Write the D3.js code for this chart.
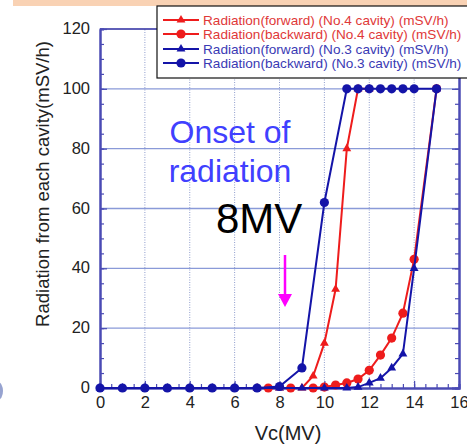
<!DOCTYPE html>
<html>
<head>
<meta charset="utf-8">
<script src="https://cdn.jsdelivr.net/npm/d3@7"></script>
<style>
  body { margin: 0; background: #fff; }
  svg { display: block; font-family: "Liberation Sans", Arial, sans-serif; }
</style>
</head>
<body>
<div id="chart"></div>
<script>
// data
const seriesNames = [
  "Radiation(forward) (No.4 cavity) (mSV/h)",
  "Radiation(backward) (No.4 cavity) (mSV/h)",
  "Radiation(forward) (No.3 cavity) (mSV/h)",
  "Radiation(backward) (No.3 cavity) (mSV/h)"
];
const vcFwd4  = [7, 8, 9, 9.5, 10, 10.5, 11, 11.5, 12];
const radFwd4 = [0, 0, 0, 4, 15, 33, 80, 100, 100];
const vcBack4  = [7.5, 8.5, 9.5, 10, 10.5, 11, 11.5, 12, 12.5, 13, 13.5, 14, 15];
const radBack4 = [0, 0, 0, 0.3, 1, 1.7, 3, 5.9, 11, 16.7, 25, 43, 100];
const vcFwd3  = [0, 1, 2, 3, 4, 5, 6, 7, 8, 9, 10, 11, 11.5, 12, 12.5, 13, 13.5, 14, 15];
const radFwd3 = [0, 0, 0, 0, 0, 0, 0, 0, 0, 0, 0, 0, 0.3, 1.7, 3.3, 6.7, 11.4, 40, 100];
const vcBack3  = [0, 1, 2, 3, 4, 5, 6, 7, 8, 9, 10, 11, 11.5, 12, 12.5, 13, 13.5, 14, 15];
const radBack3 = [0, 0, 0, 0, 0, 0, 0, 0, 0.5, 6.7, 62, 100, 100, 100, 100, 100, 100, 100, 100];
const xTicks = [0, 2, 4, 6, 8, 10, 12, 14, 16];
const yTicks = [0, 20, 40, 60, 80, 100, 120];

const W = 467, H = 446;
const svg = d3.select("#chart").append("svg")
    .attr("width", W)
    .attr("height", H);

const x = d3.scaleLinear().domain([0, 16]).range([100, 459]);
const y = d3.scaleLinear().domain([0, 120]).range([388, 29]);

const axisCol = "#4a4ab4", gridCol = "#8a9ad8";

// slide band at top + stray shape at left edge
svg.append("rect").attr("x", 13).attr("y", 0).attr("width", W - 13).attr("height", 6)
    .attr("fill", "#f9d2b4");
svg.append("ellipse").attr("cx", -2).attr("cy", 391).attr("rx", 5).attr("ry", 9)
    .attr("fill", "#7d8cc4").attr("opacity", 0.8);

// grid
svg.append("g").selectAll("line").data(yTicks.slice(1, -1)).join("line")
    .attr("x1", x(0)).attr("x2", x(16))
    .attr("y1", d => y(d)).attr("y2", d => y(d))
    .attr("stroke", gridCol).attr("stroke-width", 1.3);
svg.append("g").selectAll("line").data(xTicks.slice(1, -1)).join("line")
    .attr("x1", d => x(d)).attr("x2", d => x(d))
    .attr("y1", y(0)).attr("y2", y(120))
    .attr("stroke", "#8e9ccc").attr("stroke-width", 1)
    .attr("stroke-dasharray", "1,1.5");

// top frame line
svg.append("line").attr("x1", x(0)).attr("x2", x(16))
    .attr("y1", y(120)).attr("y2", y(120))
    .attr("stroke", "#2a2aa0").attr("stroke-width", 1.5);

function styleAxis(g) {
  g.select(".domain").attr("stroke", axisCol).attr("stroke-width", 2);
  g.selectAll(".tick line").attr("stroke", axisCol).attr("stroke-width", 1.2);
  g.selectAll(".tick text").attr("fill", "#222").attr("font-size", 16.5)
    .attr("font-family", "Liberation Sans, Arial, sans-serif");
}

// left axis
const minorY = d3.range(0, 121, 5);
svg.append("g").attr("transform", `translate(${x(0)},0)`)
    .call(d3.axisLeft(y).tickValues(minorY).tickSize(-4).tickFormat(""))
    .call(styleAxis);
svg.append("g").attr("transform", `translate(${x(0)},0)`)
    .call(d3.axisLeft(y).tickValues(yTicks).tickSizeInner(-7).tickSizeOuter(0).tickPadding(10))
    .call(styleAxis)
    .call(g => g.selectAll(".tick text").attr("dy", "0.28em"));

// right axis
svg.append("g").attr("transform", `translate(${x(16)},0)`)
    .call(d3.axisRight(y).tickValues(minorY).tickSize(-4).tickFormat(""))
    .call(styleAxis);
svg.append("g").attr("transform", `translate(${x(16)},0)`)
    .call(d3.axisRight(y).tickValues(yTicks).tickSize(-7).tickFormat(""))
    .call(styleAxis);

// bottom axis
svg.append("g").attr("transform", `translate(0,${y(0)})`)
    .call(d3.axisBottom(x).tickValues(d3.range(0, 16.01, 0.5)).tickSize(-4).tickFormat(""))
    .call(styleAxis);
svg.append("g").attr("transform", `translate(0,${y(0)})`)
    .call(d3.axisBottom(x).tickValues(xTicks).tickSizeInner(-7).tickSizeOuter(0).tickPadding(8))
    .call(styleAxis);

// axis titles
svg.append("text")
    .attr("transform", `translate(49,184) rotate(-90)`)
    .attr("text-anchor", "middle")
    .attr("font-size", 18.5).attr("fill", "#222")
    .text("Radiation from each cavity(mSV/h)");
svg.append("text")
    .attr("x", 288).attr("y", 440)
    .attr("text-anchor", "middle")
    .attr("font-size", 20).attr("fill", "#222")
    .text("Vc(MV)");

// series
const series = [
  {xs: vcFwd4, ys: radFwd4, color: "#ee1c1c", tcol: "#e03838", shape: "tri"},
  {xs: vcBack4, ys: radBack4, color: "#ee1c1c", tcol: "#e03838", shape: "circ"},
  {xs: vcFwd3, ys: radFwd3, color: "#1414a8", tcol: "#3a3ab4", shape: "tri"},
  {xs: vcBack3, ys: radBack3, color: "#1414a8", tcol: "#3a3ab4", shape: "circ"}
];
const line = d3.line().x(d => x(d[0])).y(d => y(d[1]));
const triSym = d3.symbol().type(d3.symbolTriangle).size(34);

function drawMarker(g, s, cx, cy) {
  if (s.shape === "circ") {
    g.append("circle").attr("cx", cx).attr("cy", cy).attr("r", 4.6).attr("fill", s.color);
  } else {
    g.append("path").attr("d", triSym()).attr("transform", `translate(${cx},${cy})`)
      .attr("fill", s.color);
  }
}

series.forEach(s => {
  const pts = s.xs.map((v, i) => [v, s.ys[i]]);
  const g = svg.append("g");
  g.append("path").datum(pts).attr("d", line)
    .attr("fill", "none").attr("stroke", s.color).attr("stroke-width", 2);
  pts.forEach(p => drawMarker(g, s, x(p[0]), y(p[1])));
});

// annotations
svg.append("text").attr("x", 230).attr("y", 143).attr("text-anchor", "middle")
    .attr("font-size", 32).attr("fill", "#4040ff").text("Onset of");
svg.append("text").attr("x", 230).attr("y", 182).attr("text-anchor", "middle")
    .attr("font-size", 32).attr("fill", "#4040ff").text("radiation");
svg.append("text").attr("x", 216).attr("y", 233)
    .attr("font-size", 42).attr("fill", "#000").text("8MV");
svg.append("line").attr("x1", 285).attr("x2", 285).attr("y1", 255).attr("y2", 296)
    .attr("stroke", "#ff00ff").attr("stroke-width", 2.5);
svg.append("path").attr("d", "M278,294 L292,294 L285,307 Z").attr("fill", "#ff00ff");

// legend
const lg = svg.append("g");
lg.append("rect").attr("x", 157).attr("y", 6).attr("width", 320).attr("height", 72)
    .attr("fill", "#fff").attr("stroke", "#111").attr("stroke-width", 1.2);
const rowY = [20, 34, 49, 63];
series.forEach((s, i) => {
  lg.append("line").attr("x1", 163).attr("x2", 199).attr("y1", rowY[i]).attr("y2", rowY[i])
    .attr("stroke", s.color).attr("stroke-width", 2);
  drawMarker(lg, s, 181, rowY[i]);
  lg.append("text").attr("x", 203).attr("y", rowY[i]).attr("dy", "0.35em")
    .attr("font-size", 13.6).attr("fill", s.tcol).text(seriesNames[i]);
});
</script>
</body>
</html>
